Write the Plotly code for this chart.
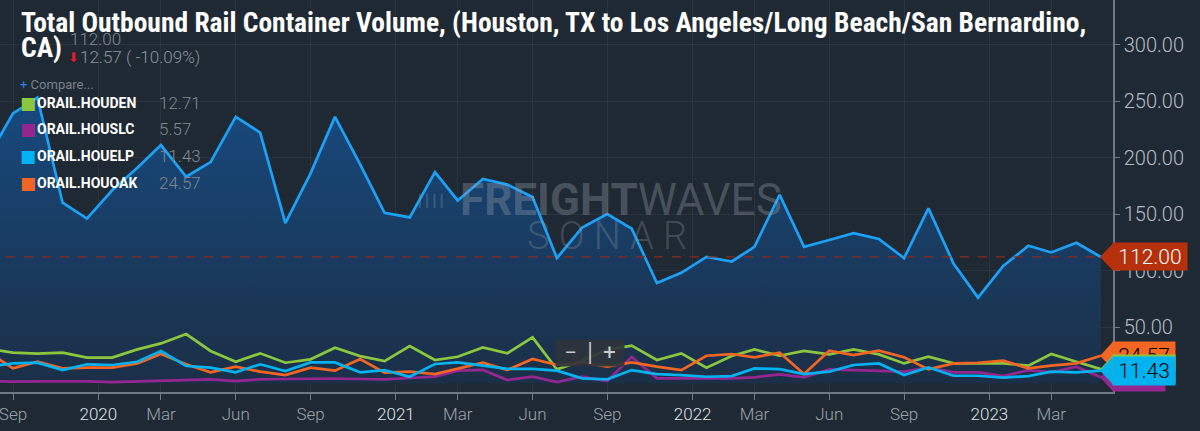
import pandas as pd
import plotly.graph_objects as go

# monthly points, Aug 2019 .. May 2023
months = pd.date_range("2019-08-01", periods=46, freq="MS")

total = [200, 239, 253, 160, 146,
         171, 191, 211, 183, 196, 236, 222, 142, 186, 236, 194, 151,
         147, 187, 162, 181, 176, 165, 111, 138, 150, 137, 89, 98,
         112, 108, 121, 167, 121, 127, 133, 128, 111, 155, 106, 76,
         104, 122, 116, 124.57, 112]

houden = [31, 27.3, 26.4, 27.3, 22.9,
          22.9, 30.2, 35.5, 43.8, 28.8, 19.3, 26.7, 18.4, 21.4, 31.7, 24.3, 19.9,
          33.2, 20.8, 23.7, 32.0, 26.7, 40.9, 12.5, 20, 30, 33.5, 20.8, 26.7,
          14.0, 24.3, 30.2, 24.6, 28.8, 25.8, 30.2, 25.8, 17.8, 23.7, 17.8, 17.8,
          17.8, 15.8, 26.1, 19.3, 12.71]

houslc = [2.2, 1.6, 1.9, 2.2, 1.9,
          1.3, 1.9, 2.5, 2.8, 3.7, 2.2, 3.7, 4.0, 4.3, 4.3, 4.0, 3.7,
          4.9, 6.1, 11.4, 12.0, 3.1, 6.1, 1.3, 6.1, 2.2, 23.7, 4.6, 4.6,
          4.0, 4.6, 5.5, 8.1, 5.5, 12.5, 11.9, 11.1, 10.5, 14.0, 9.9, 9.9,
          6.6, 11.9, 9.9, 14.9, 5.57]

houelp = [15, 17.8, 18.4, 11.9, 17.0,
          16.4, 19.3, 28.8, 15.5, 14.0, 9.9, 17.0, 11.0, 18.7, 18.7, 9.9, 11.9,
          6.0, 17.3, 18.7, 15.8, 13.0, 13.0, 11.4, 4.6, 3.7, 11.9, 8.4, 7.5,
          6.0, 6.6, 13.4, 12.8, 8.4, 10.5, 16.4, 17.8, 7.5, 14.3, 6.9, 6.9,
          5.2, 6.6, 10.5, 9.9, 11.43]

houoak = [28, 13.4, 19.3, 13.4, 14.0,
          14.0, 17.8, 26.1, 17.0, 9.9, 14.9, 10.5, 7.5, 14.0, 11.4, 21.7, 9.6,
          10.5, 8.4, 13.4, 18.4, 11.9, 21.7, 16.4, 19, 14.9, 18.7, 14.9, 11.9,
          24.6, 26.1, 23.2, 27.3, 8.4, 29.1, 25.2, 29.1, 23.2, 12.5, 17.8, 18.4,
          20.2, 13.4, 15.8, 17.8, 24.57]

tick_dates = ["2019-09-01", "2019-12-15", "2020-03-01", "2020-06-01", "2020-09-01",
              "2020-12-15", "2021-03-01", "2021-06-01", "2021-09-01", "2021-12-15",
              "2022-03-01", "2022-06-01", "2022-09-01", "2022-12-15", "2023-03-01"]
tick_labels = ["Sep", "2020", "Mar", "Jun", "Sep", "2021", "Mar", "Jun", "Sep",
               "2022", "Mar", "Jun", "Sep", "2023", "Mar"]

series = [
    ("ORAIL.HOUDEN", houden, "#8cc63f"),
    ("ORAIL.HOUSLC", houslc, "#93278f"),
    ("ORAIL.HOUELP", houelp, "#00b2f0"),
    ("ORAIL.HOUOAK", houoak, "#f26522"),
]

BG = "#1f2933"
MAIN = "#1ba1f7"
W, H = 1113, 392  # plot area in px


def px(x):
    return x / W


def py(y):
    return 1 - y / H


fig = go.Figure()

fig.add_trace(go.Scatter(
    x=months, y=total, mode="lines", name="Total",
    line=dict(color=MAIN, width=2.7),
    fill="tozeroy",
    fillgradient=dict(type="vertical", start=0, stop=260,
                      colorscale=[[0, "#1b2f47"], [1, "#174a7f"]]),
))

for name, vals, col in [series[1], series[0], series[3], series[2]]:
    fig.add_trace(go.Scatter(x=months, y=vals, mode="lines", name=name,
                             line=dict(color=col, width=2.7)))

ticktext = []
for t in tick_labels:
    if t.isdigit():
        ticktext.append('<span style="color:#dde2e6">%s</span>' % t)
    else:
        ticktext.append(t)

fig.update_layout(
    width=1200, height=431,
    margin=dict(l=0, r=87, t=0, b=39),
    paper_bgcolor=BG, plot_bgcolor=BG,
    showlegend=False, hovermode=False,
    font=dict(family="Roboto", color="#9aa2aa"),
)

fig.update_xaxes(
    range=["2019-08-16", "2023-05-16"],
    tickvals=tick_dates, ticktext=ticktext,
    tickfont=dict(size=17, color="#9aa2aa", weight=300),
    ticklabeloverflow="allow",
    showgrid=True, gridcolor="rgba(255,255,255,0.05)",
    showline=True, linecolor="#6f777f", linewidth=1.5,
    ticks="outside", ticklen=6, tickcolor="#6f777f",
    zeroline=False,
)
fig.update_yaxes(
    side="right", range=[-7.5, 339.4],
    tickvals=[50, 100, 150, 200, 250, 300], tickformat=".2f",
    tickfont=dict(size=20, color="#b4bcc4", weight=300),
    ticklabeloverflow="allow",
    showgrid=True, gridcolor="rgba(255,255,255,0.05)",
    showline=True, linecolor="#6f777f", linewidth=1.5,
    ticks="outside", ticklen=5, tickcolor="#6f777f",
    zeroline=False,
)

# last value reference line
fig.add_shape(type="line", xref="x", yref="y",
              x0=months[0], x1=months[-1], y0=total[-1], y1=total[-1],
              line=dict(color="#8c2b1e", width=1.2, dash="dash"))

ann = []
title_font = dict(family="Roboto Condensed, Liberation Sans Narrow, Arial Narrow, Roboto",
                  size=27.5, color="white")
ann.append(dict(text="<b>Total Outbound Rail Container Volume, (Houston, TX to Los Angeles/Long Beach/San Bernardino,</b>",
                x=px(19), y=py(22), xanchor="left", yanchor="middle", font=title_font))
ann.append(dict(text="<b>CA)</b>", x=px(19), y=py(47), xanchor="left", yanchor="middle", font=title_font))

change = total[-1] - total[-2]
pct = change / total[-2] * 100
ann.append(dict(text="%.2f" % total[-1], x=px(68), y=py(39), xanchor="left", yanchor="middle",
                font=dict(size=17, color="#7f8891", weight=300)))
ann.append(dict(text="\u2b07", x=px(66), y=py(57), xanchor="left", yanchor="middle",
                font=dict(family="DejaVu Sans", size=13, color="#e8192c")))
ann.append(dict(text="%.2f ( %.2f%%)" % (abs(change), pct), x=px(78), y=py(57),
                xanchor="left", yanchor="middle", font=dict(size=17, color="#8a939c", weight=300)))
ann.append(dict(text='<span style="color:#2f7fe0">+</span> Compare...', x=px(18), y=py(84),
                xanchor="left", yanchor="middle", font=dict(size=13, color="#7a838c")))

rows_y = [103, 129, 156, 183]
for (name, vals, col), ry in zip(series, rows_y):
    ann.append(dict(text="\u25a0", x=px(18), y=py(ry), xanchor="left", yanchor="middle",
                    font=dict(family="DejaVu Sans", size=17, color=col)))
    ann.append(dict(text="<b>%s</b>" % name, x=px(35), y=py(ry), xanchor="left", yanchor="middle",
                    font=dict(size=14, color="white")))
    ann.append(dict(text="%.2f" % vals[-1], x=px(157), y=py(ry), xanchor="left", yanchor="middle",
                    font=dict(size=17, color="#7f8891", weight=300)))

# watermark
ann.append(dict(text="\u2503\u2503\u2503\u2503", x=px(430), y=py(200), xanchor="center", yanchor="middle",
                font=dict(family="DejaVu Sans", size=12, color="rgba(150,158,168,0.30)")))
ann.append(dict(text="<b>FREIGHT</b>WAVES", x=px(621), y=py(200), xanchor="center", yanchor="middle",
                font=dict(size=44, color="rgba(150,158,168,0.35)")))
ann.append(dict(text="S O N A R", x=px(607), y=py(236), xanchor="center", yanchor="middle",
                font=dict(size=38, color="rgba(150,158,168,0.30)", weight=300)))

# zoom control
ann.append(dict(text="\u2212 \u2502 +", x=px(590), y=py(353), xanchor="center", yanchor="middle",
                bgcolor="rgba(44,52,60,0.92)", width=64, height=22, borderpad=2,
                font=dict(size=22, color="#c9cdd1")))

# value tags on the right axis
tags = [
    (houslc[-1], "#93278f", "black", 48),
    (houoak[-1], "#f26522", "black", 58),
    (houden[-1], "#8cc63f", "black", 58),
    (houelp[-1], "#00b2f0", "black", 58),
]
for val, col, tc, w in tags:
    fig.add_shape(type="path", xref="paper", yref="y",
                  xsizemode="pixel", ysizemode="pixel", xanchor=1, yanchor=val,
                  path="M-13,0 L0,14 L0,-14 Z", fillcolor=col, line_width=0, layer="above")
    ann.append(dict(text="%.2f" % val, x=1, xshift=-1, y=val, yref="y", xanchor="left",
                    yanchor="middle", bgcolor=col, width=w, height=24, borderpad=2,
                    font=dict(size=21, color=tc, weight=300)))

fig.add_shape(type="path", xref="paper", yref="y",
              xsizemode="pixel", ysizemode="pixel", xanchor=1, yanchor=total[-1],
              path="M-13,0 L0,13.5 L0,-13.5 Z", fillcolor="#b5300b", line_width=0, layer="above")
ann.append(dict(text="%.2f" % total[-1], x=1, xshift=-1, y=total[-1], yref="y", xanchor="left",
                yanchor="middle", bgcolor="#b5300b", width=70, height=23, borderpad=2,
                font=dict(size=21, color="white", weight=300)))

for a in ann:
    a.setdefault("xref", "paper")
    a.setdefault("yref", "paper")
    a["showarrow"] = False
fig.update_layout(annotations=ann)

fig.write_html("out.html", config={"displayModeBar": False},
               post_script="document.body.style.margin='0';document.body.style.overflow='hidden';")
